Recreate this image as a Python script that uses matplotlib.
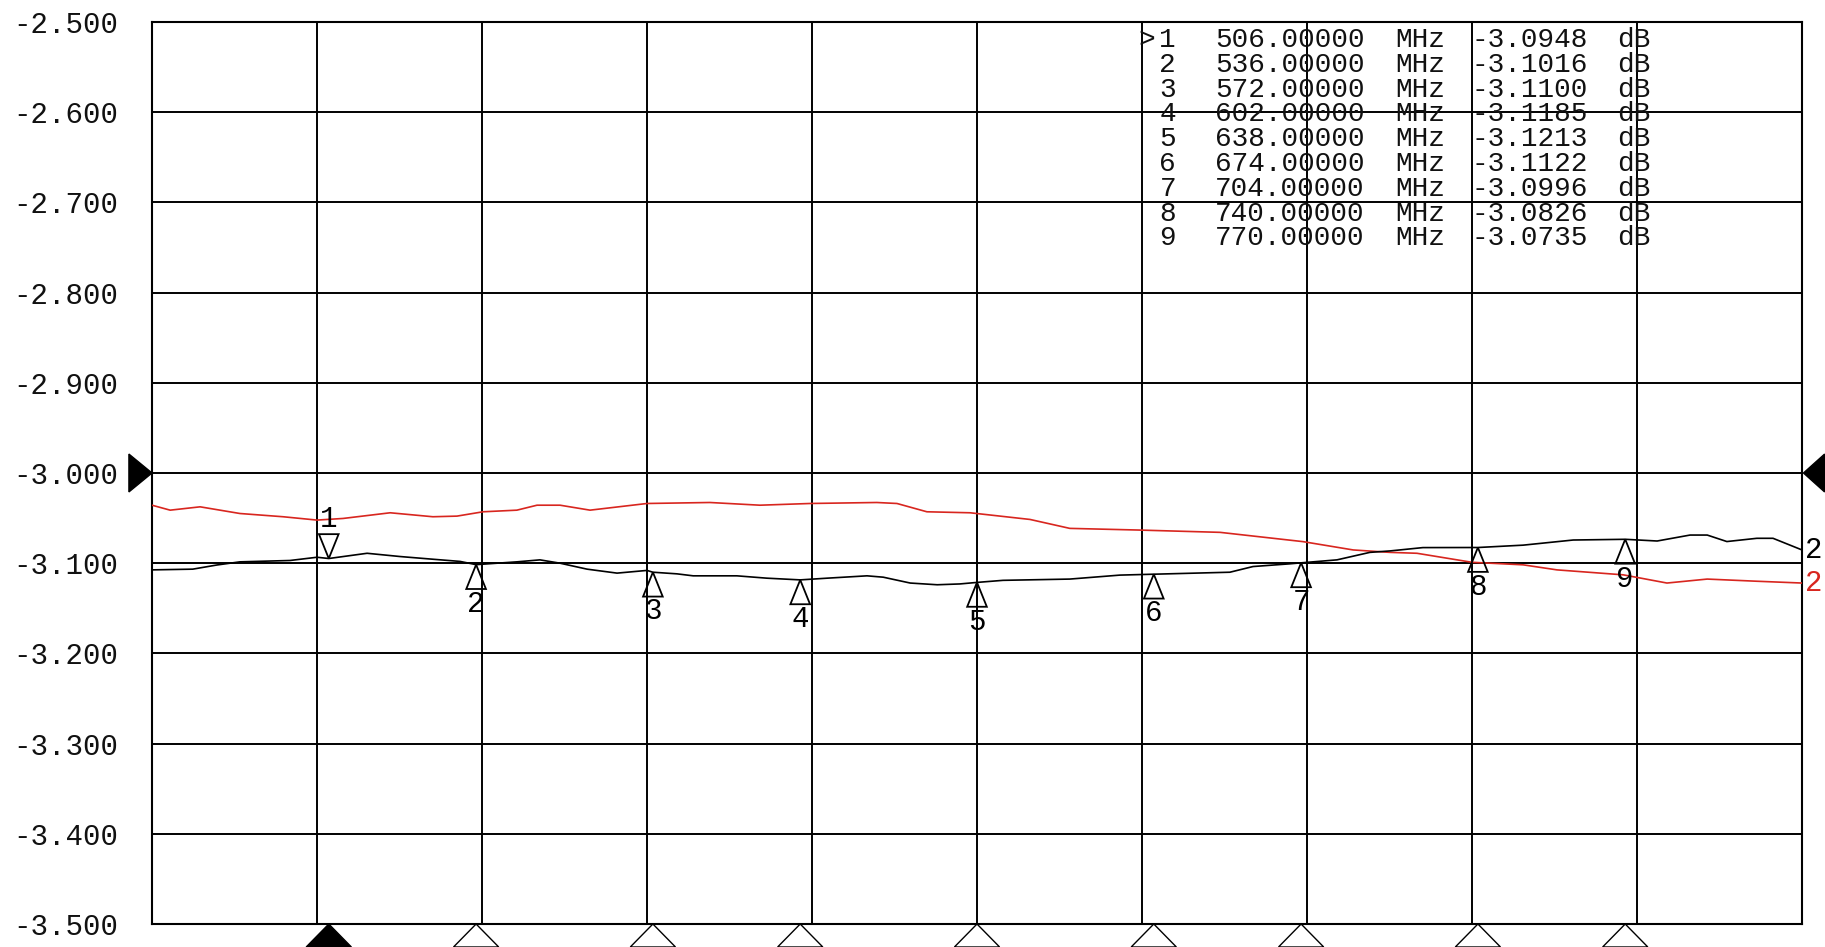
import matplotlib
matplotlib.use("Agg")
import matplotlib.pyplot as plt
from matplotlib.patches import Polygon

MONO = "Liberation Mono"
C_BLACK = "#000000"
C_RED = "#d8261f"

# sweep settings (MHz / dB)
F_START, F_STOP = 470.0, 806.0
Y_TOP, Y_BOTTOM = -2.5, -3.5

# trace 1 (black)
trace1_freq = [470.0, 478.3, 483.2, 487.9, 498.1, 503.6, 506.0, 513.8, 520.5,
               527.2, 532.7, 536.0, 544.3, 549.0, 553.1, 558.6, 564.7, 570.8,
               572.0, 576.9, 580.2, 589.1, 595.2, 602.0, 607.5, 615.6, 618.9,
               624.4, 629.9, 634.5, 638.0, 643.3, 656.9, 667.1, 674.0, 689.5,
               694.2, 701.7, 704.0, 711.3, 718.0, 722.1, 728.8, 740.0, 749.2,
               759.4, 770.0, 776.5, 783.2, 786.7, 790.7, 796.8, 800.1, 806.0]
trace1_db = [-3.1074, -3.1066, -3.1020, -3.0985, -3.0970, -3.0934, -3.0948,
             -3.0890, -3.0926, -3.0956, -3.0980, -3.1016, -3.0985, -3.0963,
             -3.1000, -3.1066, -3.1110, -3.1080, -3.1100, -3.1118, -3.1140,
             -3.1140, -3.1166, -3.1185, -3.1166, -3.1140, -3.1155, -3.1220,
             -3.1239, -3.1230, -3.1213, -3.1190, -3.1176, -3.1132, -3.1122,
             -3.1100, -3.1037, -3.1007, -3.0996, -3.0963, -3.0880, -3.0864,
             -3.0827, -3.0826, -3.0800, -3.0743, -3.0735, -3.0754, -3.0688,
             -3.0688, -3.0760, -3.0724, -3.0724, -3.0853]

# trace 2 (red, memory)
trace2_freq = [470.0, 473.7, 479.8, 487.9, 496.7, 503.6, 508.9, 518.5, 527.2,
               532.1, 537.4, 544.3, 548.4, 553.1, 559.2, 570.8, 583.6, 593.8,
               604.0, 617.6, 621.7, 627.8, 636.6, 648.8, 656.9, 670.6, 687.5,
               704.4, 714.6, 722.1, 727.6, 738.8, 749.2, 756.1, 769.6, 778.5,
               786.7, 796.8, 806.0]
trace2_db = [-3.0357, -3.0412, -3.0375, -3.0449, -3.0485, -3.0522, -3.0504,
             -3.0441, -3.0485, -3.0478, -3.0430, -3.0412, -3.0357, -3.0357,
             -3.0412, -3.0338, -3.0327, -3.0357, -3.0338, -3.0327, -3.0338,
             -3.0430, -3.0441, -3.0515, -3.0614, -3.0632, -3.0658, -3.0761,
             -3.0853, -3.0880, -3.0890, -3.0990, -3.1018, -3.1074, -3.1129,
             -3.1220, -3.1176, -3.1200, -3.1220]

marker_no = [1, 2, 3, 4, 5, 6, 7, 8, 9]
marker_freq = [506, 536, 572, 602, 638, 674, 704, 740, 770]
marker_db = [-3.0948, -3.1016, -3.1100, -3.1185, -3.1213, -3.1122, -3.0996,
             -3.0826, -3.0735]

y_ticks = [-2.5, -2.6, -2.7, -2.8, -2.9, -3.0, -3.1, -3.2, -3.3, -3.4, -3.5]
y_labels = [f"{v:.3f}" for v in y_ticks]
x_ticks = [F_START + i * (F_STOP - F_START) / 10 for i in range(11)]

fig = plt.figure(figsize=(18.25, 9.47), dpi=100)
fig.patch.set_facecolor("white")
ax = fig.add_axes([152 / 1825, 23 / 947, 1650 / 1825, 902 / 947])
ax.set_xlim(F_START, F_STOP)
ax.set_ylim(Y_BOTTOM, Y_TOP)

ax.set_xticks(x_ticks)
ax.set_xticklabels([])
ax.set_yticks(y_ticks)
ax.set_yticklabels(y_labels, fontfamily=MONO, fontsize=21, color="#111111")
ax.tick_params(length=0, pad=24)
ax.grid(True, color=C_BLACK, linewidth=1.4)
ax.set_axisbelow(True)
for s in ax.spines.values():
    s.set_linewidth(1.5)

ax.plot(trace2_freq, trace2_db, color=C_RED, linewidth=1.2, zorder=3)
ax.plot(trace1_freq, trace1_db, color=C_BLACK, linewidth=1.2, zorder=3)

# trace labels at right edge
ax.text(F_STOP + 0.6, trace1_db[-1], "2", ha="left", va="center",
        fontfamily=MONO, fontsize=21, color=C_BLACK, clip_on=False)
ax.text(F_STOP + 0.6, trace2_db[-1], "2", ha="left", va="center",
        fontfamily=MONO, fontsize=21, color=C_RED, clip_on=False)

# markers on the trace
w, h = 2.0, 0.027
for n, f, v in zip(marker_no, marker_freq, marker_db):
    if n == 1:
        tri = [(f - w, v + h), (f + w, v + h), (f, v)]
        ax.add_patch(Polygon(tri, closed=True, fill=False, edgecolor=C_BLACK,
                             linewidth=1.3, zorder=4))
        ax.text(f, v + h + 0.001, str(n), ha="center", va="bottom",
                fontfamily=MONO, fontsize=21, zorder=4)
    else:
        tri = [(f, v), (f - w, v - h), (f + w, v - h)]
        ax.add_patch(Polygon(tri, closed=True, fill=False, edgecolor=C_BLACK,
                             linewidth=1.3, zorder=4))
        ax.text(f, v - h - 0.001, str(n), ha="center", va="top",
                fontfamily=MONO, fontsize=21, zorder=4)

    # marker flags below the graticule
    bw, bh = 4.6, 0.0255
    flag = [(f, Y_BOTTOM), (f - bw, Y_BOTTOM - bh), (f + bw, Y_BOTTOM - bh)]
    ax.add_patch(Polygon(flag, closed=True, clip_on=False,
                         facecolor=C_BLACK if n == 1 else "white",
                         edgecolor=C_BLACK, linewidth=1.0))

# reference level pointers at -3.000
ax.add_patch(Polygon([(F_START, -3.0), (F_START - 4.7, -2.979),
                      (F_START - 4.7, -3.021)], closed=True, clip_on=False,
                     facecolor=C_BLACK, edgecolor=C_BLACK))
ax.add_patch(Polygon([(F_STOP + 0.3, -3.0), (F_STOP + 4.6, -2.979),
                      (F_STOP + 4.6, -3.021)], closed=True, clip_on=False,
                     facecolor=C_BLACK, edgecolor=C_BLACK))


# marker table, positions in screen pixels
def ax_x(px):
    return (px - 152) / 1650


def ax_y(py):
    return (924 - py) / 902


for i, (n, f, v) in enumerate(zip(marker_no, marker_freq, marker_db)):
    yy = ax_y(40 + i * 24.8)
    kw = dict(fontfamily=MONO, fontsize=20, va="center", transform=ax.transAxes,
              zorder=5, color="#111111")
    if n == 1:
        ax.text(ax_x(1138), yy, ">", ha="left", **kw)
    ax.text(ax_x(1176), yy, str(n), ha="right", **kw)
    ax.text(ax_x(1215), yy, f"{f:.5f}", ha="left", **kw)
    ax.text(ax_x(1395), yy, "MHz", ha="left", **kw)
    ax.text(ax_x(1472), yy, f"{v:.4f}", ha="left", **kw)
    ax.text(ax_x(1617), yy, "dB", ha="left", **kw)

fig.savefig("out.png", dpi=100, facecolor="white")
